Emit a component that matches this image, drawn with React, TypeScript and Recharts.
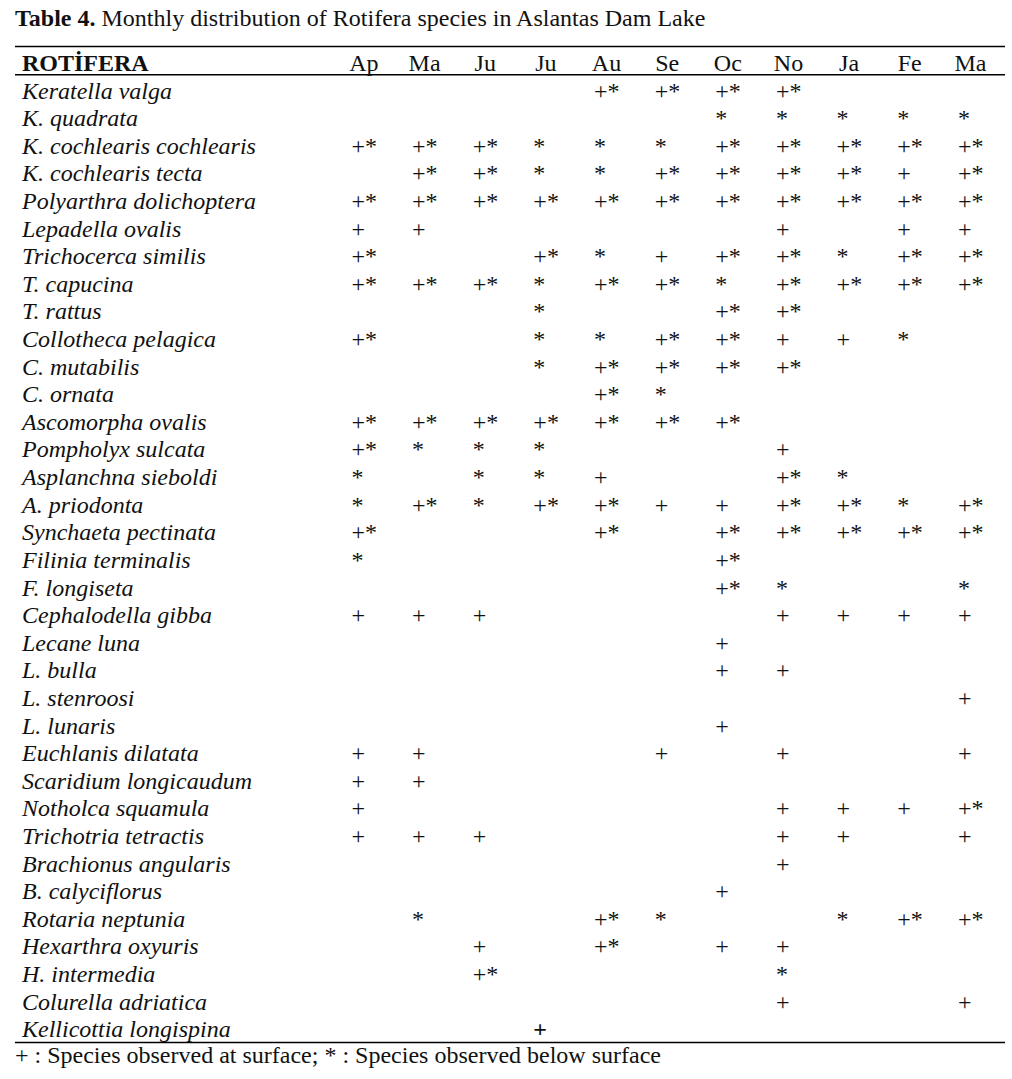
import React from 'react';
import { ScatterChart, Scatter, XAxis, YAxis, ReferenceLine, Customized } from 'recharts';

const title = 'Monthly distribution of Rotifera species in Aslantas Dam Lake';
const titleLabel = 'Table 4.';
const groupLabel = 'ROTİFERA';
const footnote = '+ : Species observed at surface; * : Species observed below surface';

const months = ['Ap', 'Ma', 'Ju', 'Ju', 'Au', 'Se', 'Oc', 'No', 'Ja', 'Fe', 'Ma'];

const species = [
  'Keratella valga',
  'K. quadrata',
  'K. cochlearis cochlearis',
  'K. cochlearis tecta',
  'Polyarthra dolichoptera',
  'Lepadella ovalis',
  'Trichocerca similis',
  'T. capucina',
  'T. rattus',
  'Collotheca pelagica',
  'C. mutabilis',
  'C. ornata',
  'Ascomorpha ovalis',
  'Pompholyx sulcata',
  'Asplanchna sieboldi',
  'A. priodonta',
  'Synchaeta pectinata',
  'Filinia terminalis',
  'F. longiseta',
  'Cephalodella gibba',
  'Lecane luna',
  'L. bulla',
  'L. stenroosi',
  'L. lunaris',
  'Euchlanis dilatata',
  'Scaridium longicaudum',
  'Notholca squamula',
  'Trichotria tetractis',
  'Brachionus angularis',
  'B. calyciflorus',
  'Rotaria neptunia',
  'Hexarthra oxyuris',
  'H. intermedia',
  'Colurella adriatica',
  'Kellicottia longispina',
];

// one entry per month: Ap Ma Ju Ju Au Se Oc No Ja Fe Ma
const presence: string[][] = [
  ['', '', '', '', '+*', '+*', '+*', '+*', '', '', ''],
  ['', '', '', '', '', '', '*', '*', '*', '*', '*'],
  ['+*', '+*', '+*', '*', '*', '*', '+*', '+*', '+*', '+*', '+*'],
  ['', '+*', '+*', '*', '*', '+*', '+*', '+*', '+*', '+', '+*'],
  ['+*', '+*', '+*', '+*', '+*', '+*', '+*', '+*', '+*', '+*', '+*'],
  ['+', '+', '', '', '', '', '', '+', '', '+', '+'],
  ['+*', '', '', '+*', '*', '+', '+*', '+*', '*', '+*', '+*'],
  ['+*', '+*', '+*', '*', '+*', '+*', '*', '+*', '+*', '+*', '+*'],
  ['', '', '', '*', '', '', '+*', '+*', '', '', ''],
  ['+*', '', '', '*', '*', '+*', '+*', '+', '+', '*', ''],
  ['', '', '', '*', '+*', '+*', '+*', '+*', '', '', ''],
  ['', '', '', '', '+*', '*', '', '', '', '', ''],
  ['+*', '+*', '+*', '+*', '+*', '+*', '+*', '', '', '', ''],
  ['+*', '*', '*', '*', '', '', '', '+', '', '', ''],
  ['*', '', '*', '*', '+', '', '', '+*', '*', '', ''],
  ['*', '+*', '*', '+*', '+*', '+', '+', '+*', '+*', '*', '+*'],
  ['+*', '', '', '', '+*', '', '+*', '+*', '+*', '+*', '+*'],
  ['*', '', '', '', '', '', '+*', '', '', '', ''],
  ['', '', '', '', '', '', '+*', '*', '', '', '*'],
  ['+', '+', '+', '', '', '', '', '+', '+', '+', '+'],
  ['', '', '', '', '', '', '+', '', '', '', ''],
  ['', '', '', '', '', '', '+', '+', '', '', ''],
  ['', '', '', '', '', '', '', '', '', '', '+'],
  ['', '', '', '', '', '', '+', '', '', '', ''],
  ['+', '+', '', '', '', '+', '', '+', '', '', '+'],
  ['+', '+', '', '', '', '', '', '', '', '', ''],
  ['+', '', '', '', '', '', '', '+', '+', '+', '+*'],
  ['+', '+', '+', '', '', '', '', '+', '+', '', '+'],
  ['', '', '', '', '', '', '', '+', '', '', ''],
  ['', '', '', '', '', '', '+', '', '', '', ''],
  ['', '*', '', '', '+*', '*', '', '', '*', '+*', '+*'],
  ['', '', '+', '', '+*', '', '+', '+', '', '', ''],
  ['', '', '+*', '', '', '', '', '*', '', '', ''],
  ['', '', '', '', '', '', '', '+', '', '', '+'],
  ['', '', '', '+', '', '', '', '', '', '', ''],
];

// cells printed in bold in the source table: [speciesIndex, monthIndex]
const boldCells: number[][] = [[34, 3]];

const FONT = '"Liberation Serif", "Times New Roman", serif';
const INK = '#111';
const W = 1012;
const H = 1079;
const FS = 24;

const cellData = presence.flatMap((row, si) =>
  row
    .map((mark, mi) => ({
      x: mi,
      y: si,
      mark,
      bold: boldCells.some(([s, m]) => s === si && m === mi),
    }))
    .filter((d) => d.mark !== '')
);

const headerData = months.map((m, i) => ({ x: i, y: -1, label: m }));

const yTicks = [-1, ...species.map((_, i) => i)];

const CellMark = (props: any) => {
  const { cx, cy, payload } = props;
  if (cx == null || cy == null) return null;
  return (
    <text
      x={cx - 6.5}
      y={cy + 8.5}
      textAnchor="start"
      fontFamily={FONT}
      fontSize={FS}
      fontWeight={payload.bold ? 'bold' : 'normal'}
      fill={INK}
    >
      {payload.mark}
    </text>
  );
};

const HeaderMark = (props: any) => {
  const { cx, cy, payload } = props;
  if (cx == null || cy == null) return null;
  return (
    <text x={cx + 6} y={cy + 8.5} textAnchor="middle" fontFamily={FONT} fontSize={FS} fill={INK}>
      {payload.label}
    </text>
  );
};

const SpeciesTick = (props: any) => {
  const { y, payload } = props;
  const v = payload.value;
  if (v === -1) {
    return (
      <text x={22} y={y + 8.5} fontFamily={FONT} fontSize={FS} fontWeight="bold" fill={INK}>
        {groupLabel}
      </text>
    );
  }
  return (
    <text x={22} y={y + 8.5} fontFamily={FONT} fontSize={FS} fontStyle="italic" fill={INK}>
      {species[v]}
    </text>
  );
};

const Annotations = () => (
  <g>
    <text x={15} y={26} fontFamily={FONT} fontSize={FS} fill={INK}>
      <tspan fontWeight="bold">{titleLabel}</tspan>
      <tspan> {title}</tspan>
    </text>
    <text x={15} y={1063} fontFamily={FONT} fontSize={FS} fill={INK}>
      {footnote}
    </text>
  </g>
);

export default function App() {
  return (
    <div style={{ position: 'absolute', left: 0, top: 0, width: W, height: H, background: '#fff' }}>
      <ScatterChart
        width={W}
        height={H}
        margin={{ top: 46.5, right: 7, bottom: 36.5, left: 14 }}
      >
        <XAxis
          type="number"
          dataKey="x"
          domain={[-5.654, 10.669]}
          allowDataOverflow
          hide
        />
        <YAxis
          type="number"
          dataKey="y"
          domain={[-1.58, 34.5]}
          reversed
          allowDataOverflow
          ticks={yTicks}
          interval={0}
          width={1}
          axisLine={false}
          tickLine={false}
          tick={SpeciesTick}
        />
        <ReferenceLine y={-1.58} stroke="#000" strokeWidth={1.5} />
        <ReferenceLine y={-0.56} stroke="#000" strokeWidth={1.5} />
        <ReferenceLine y={34.5} stroke="#000" strokeWidth={1.5} />
        <Scatter data={headerData} shape={<HeaderMark />} isAnimationActive={false} />
        <Scatter data={cellData} shape={<CellMark />} isAnimationActive={false} />
        <Customized component={Annotations} />
      </ScatterChart>
    </div>
  );
}
